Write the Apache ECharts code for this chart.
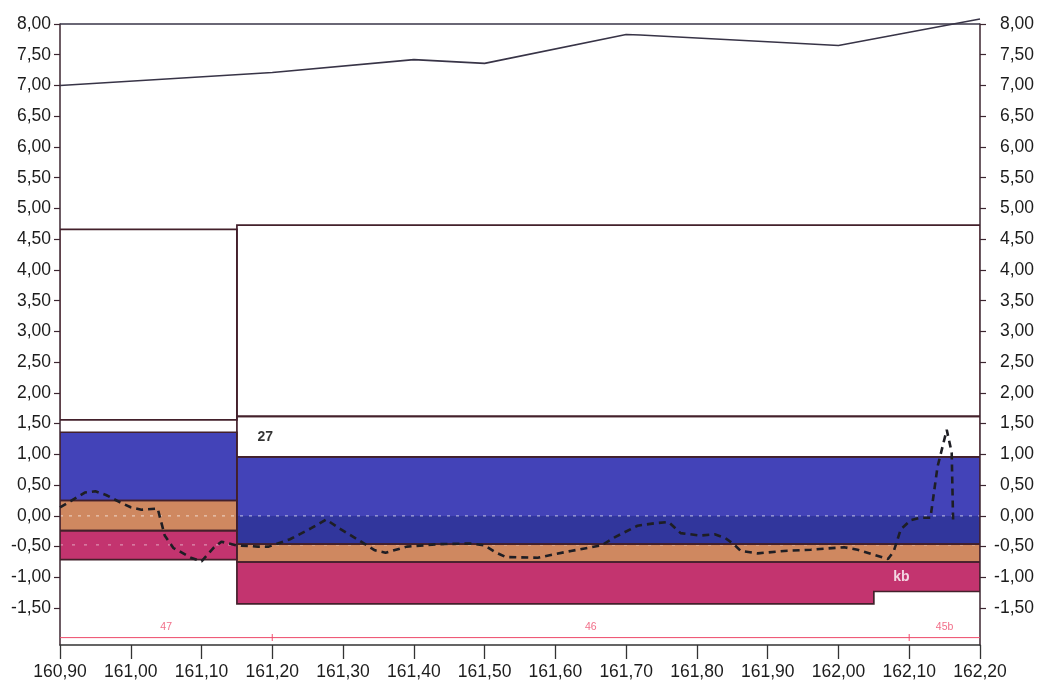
<!DOCTYPE html>
<html>
<head>
<meta charset="utf-8">
<script src="https://cdn.jsdelivr.net/npm/echarts@6/dist/echarts.min.js"></script>
<style>
html,body{margin:0;padding:0;background:#ffffff;}
#c{width:1041px;height:687px;}
</style>
</head>
<body>
<div id="c"></div>
<script>
// ---------- data ----------
const xMin = 160.90, xMax = 162.20, xStep = 0.10;
const yMin = -2.10, yMax = 8.00;
const yTickValues = [-1.5, -1.0, -0.5, 0.0, 0.5, 1.0, 1.5, 2.0, 2.5, 3.0, 3.5, 4.0,
                     4.5, 5.0, 5.5, 6.0, 6.5, 7.0, 7.5, 8.0];

// upper reference line and terrain line
const topLineX = [160.90, 162.20];
const topLineY = [8.00, 8.00];
const terrainX = [160.90, 161.20, 161.40, 161.50, 161.70, 161.72, 162.00, 162.20];
const terrainY = [7.00, 7.21, 7.42, 7.36, 7.83, 7.82, 7.65, 8.08];

// dashed measured line
const waterX = [160.900,160.915,160.935,160.950,160.965,160.985,161.000,161.015,161.038,161.048,
                161.060,161.085,161.100,161.117,161.128,161.150,161.180,161.195,161.225,161.255,
                161.276,161.297,161.320,161.345,161.360,161.390,161.435,161.480,161.500,161.515,
                161.530,161.575,161.600,161.622,161.665,161.685,161.716,161.740,161.760,161.777,
                161.805,161.825,161.840,161.852,161.862,161.886,161.923,161.961,162.008,162.027,
                162.070,162.078,162.088,162.102,162.116,162.130,162.140,162.153,162.160,162.162];
const waterY = [0.14,0.24,0.38,0.40,0.34,0.22,0.14,0.10,0.12,-0.32,
                -0.52,-0.68,-0.74,-0.52,-0.42,-0.48,-0.50,-0.50,-0.38,-0.20,
                -0.06,-0.22,-0.38,-0.56,-0.60,-0.50,-0.46,-0.45,-0.48,-0.59,
                -0.67,-0.68,-0.62,-0.57,-0.48,-0.34,-0.16,-0.12,-0.10,-0.28,
                -0.32,-0.30,-0.36,-0.46,-0.57,-0.61,-0.57,-0.55,-0.51,-0.55,
                -0.70,-0.58,-0.22,-0.07,-0.03,-0.03,0.80,1.40,1.03,-0.08];

// soil / water layers (kind + outline in data units)
const layerKind = ['void','blue','sand','clay','void','void','blue','deep','sand','clay'];
const layerOutline = [
  [[160.90,4.66],[161.15,4.66],[161.15,1.56],[160.90,1.56]],
  [[160.90,1.36],[161.15,1.36],[161.15,0.25],[160.90,0.25]],
  [[160.90,0.25],[161.15,0.25],[161.15,-0.24],[160.90,-0.24]],
  [[160.90,-0.24],[161.15,-0.24],[161.15,-0.71],[160.90,-0.71]],
  [[161.15,4.73],[162.20,4.73],[162.20,1.62],[161.15,1.62]],
  [[161.15,1.62],[162.20,1.62],[162.20,0.96],[161.15,0.96]],
  [[161.15,0.96],[162.20,0.96],[162.20,-0.46],[161.15,-0.46]],
  [[161.15,0.00],[162.20,0.00],[162.20,-0.46],[161.15,-0.46]],
  [[161.15,-0.46],[162.20,-0.46],[162.20,-0.75],[161.15,-0.75]],
  [[161.15,-0.75],[162.20,-0.75],[162.20,-1.23],[162.05,-1.23],[162.05,-1.43],[161.15,-1.43]]
];

// horizontal dotted level marks
const levelMarks = [0.00, -0.47];

// layer captions
const captionText = ['27', 'kb'];
const captionX = [161.19, 162.089];
const captionY = [1.28, -1.00];
const captionKind = ['dark', 'light'];

// kilometre sections along the bottom
const sectionLevel = -1.98;
const sectionBounds = [160.90, 161.20, 162.10, 162.20];
const sectionNames = ['47', '46', '45b'];

// ---------- styles ----------
const kindFill = {void:'#ffffff', blue:'#4343b8', deep:'#31369c', sand:'#cf8860', clay:'#c3346f'};
const kindOutlined = {void:true, blue:true, deep:false, sand:true, clay:true};
const outlineColor = '#43202b';
const textColor = '#1c1c1c';
const sectionColor = '#ee4a6a';
const fontFamily = 'Liberation Sans, Arial, sans-serif';

const zip = (xs, ys) => xs.map((x, i) => [x, ys[i]]);
const fmt = v => v.toFixed(2).replace('.', ',');

function layerRenderer(fillPass) {
  return function (params, api) {
    const i = params.dataIndex;
    const kind = layerKind[i];
    const pts = layerOutline[i].map(p => api.coord(p));
    if (fillPass) {
      return {type:'polygon', shape:{points:pts}, style:{fill:kindFill[kind], stroke:null}};
    }
    if (!kindOutlined[kind]) return null;
    return {type:'polygon', shape:{points:pts}, style:{fill:null, stroke:outlineColor, lineWidth:1.7}};
  };
}

const layerData = layerOutline.map(o => o[0]);
const sectionCenters = sectionNames.map((n, i) => [(sectionBounds[i] + sectionBounds[i + 1]) / 2, sectionLevel, n]);
const sectionTicks = sectionBounds.slice(1, -1).map(x => [x, sectionLevel]);

const chart = echarts.init(document.getElementById('c'), null, {renderer:'canvas'});

function yAxisDef(position, labelOpts) {
  return {
    type:'value', min:yMin, max:yMax, position:position,
    splitLine:{show:false},
    axisLine:{show:true, lineStyle:{color:'#3c2630', width:1.5}},
    axisTick:{show:true, length:6, customValues:yTickValues, lineStyle:{color:'#3c2630', width:1.2}},
    axisLabel:Object.assign({customValues:yTickValues, formatter:v => fmt(v), fontFamily:fontFamily,
                             fontSize:17.5, color:textColor}, labelOpts)
  };
}

chart.setOption({
  animation:false,
  backgroundColor:'#ffffff',
  grid:{left:60, right:61, top:24, bottom:42, containLabel:false},
  xAxis:{
    type:'value', min:xMin, max:xMax, interval:xStep,
    splitLine:{show:false},
    axisLine:{show:true, onZero:false, lineStyle:{color:'#333333', width:1.5}},
    axisTick:{show:true, length:14, lineStyle:{color:'#333333', width:1.3}},
    axisLabel:{formatter:v => fmt(v), fontFamily:fontFamily, fontSize:17.5, color:textColor, margin:18}
  },
  yAxis:[
    yAxisDef('left', {margin:9}),
    yAxisDef('right', {margin:54, align:'right'})
  ],
  series:[
    {type:'custom', name:'layers', renderItem:layerRenderer(true), data:layerData,
     encode:{x:0, y:1}, clip:true, z:1, silent:true},
    {type:'line', name:'levels-0', data:[[xMin, levelMarks[0]], [xMax, levelMarks[0]]], showSymbol:false,
     lineStyle:{color:'rgba(255,255,255,0.55)', width:1.2, type:[3,6]}, z:2, silent:true},
    {type:'line', name:'levels-1', data:[[xMin, levelMarks[1]], [xMax, levelMarks[1]]], showSymbol:false,
     lineStyle:{color:'rgba(255,255,255,0.45)', width:1.2, type:[3,9]}, z:2, silent:true},
    {type:'custom', name:'outlines', renderItem:layerRenderer(false), data:layerData,
     encode:{x:0, y:1}, clip:true, z:3, silent:true},
    {type:'line', name:'top', data:zip(topLineX, topLineY), showSymbol:false, smooth:false, clip:false,
     lineStyle:{color:'#383447', width:1.6}, z:4},
    {type:'line', name:'terrain', data:zip(terrainX, terrainY), showSymbol:false, smooth:false, clip:false,
     lineStyle:{color:'#383447', width:1.6}, z:4},
    {type:'line', name:'water', data:zip(waterX, waterY), showSymbol:false, smooth:false,
     lineStyle:{color:'#1e1e24', width:2.6, type:[7,5]}, z:5},
    {type:'line', name:'sections', data:[[xMin, sectionLevel], [xMax, sectionLevel]], showSymbol:false,
     lineStyle:{color:sectionColor, width:1}, z:4},
    {type:'scatter', name:'sectionTicks', data:sectionTicks, symbol:'rect', symbolSize:[1.2, 7],
     itemStyle:{color:sectionColor}, z:4},
    {type:'scatter', name:'sectionNames', data:sectionCenters, symbolSize:0,
     label:{show:true, position:'top', distance:5, formatter:p => p.value[2],
            color:sectionColor, fontSize:10.5, fontFamily:fontFamily}, z:4},
    {type:'scatter', name:'captions',
     data:captionText.map((t, i) => ({value:[captionX[i], captionY[i], t],
        label:{color: captionKind[i] === 'dark' ? '#000000' : '#ffffff', textBorderWidth:0}})),
     symbolSize:0,
     label:{show:true, position:'inside', formatter:p => p.value[2], fontWeight:900,
            color:'#000000', textBorderWidth:0,
            fontSize:14, fontFamily:fontFamily}, z:6}
  ]
});
</script>
</body>
</html>
